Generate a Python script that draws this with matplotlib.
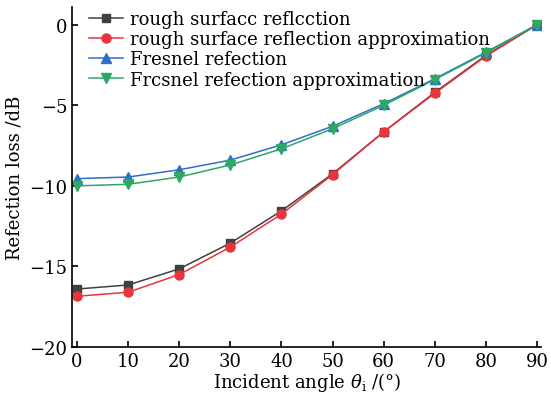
import matplotlib
matplotlib.use('Agg')
import matplotlib.pyplot as plt
import numpy as np

# Data
angles = [0, 10, 20, 30, 40, 50, 60, 70, 80, 90]
rough = [-16.4, -16.15, -15.15, -13.55, -11.55, -9.25, -6.65, -4.2, -1.9, 0.0]
rough_approx = [-16.85, -16.6, -15.5, -13.8, -11.75, -9.3, -6.65, -4.25, -1.95, 0.0]
fresnel = [-9.55, -9.45, -9.0, -8.4, -7.45, -6.3, -4.9, -3.35, -1.7, 0.0]
fresnel_approx = [-10.0, -9.9, -9.45, -8.7, -7.7, -6.45, -5.0, -3.4, -1.75, 0.0]

plt.rcParams['font.family'] = 'DejaVu Serif'
plt.rcParams['mathtext.fontset'] = 'dejavuserif'

fig, ax = plt.subplots(figsize=(5.51, 4.02), dpi=100)
fig.subplots_adjust(left=0.1307, right=0.982, bottom=0.1343, top=0.98)

ax.plot(angles, rough, '-s', color='#404040', ms=5.5, lw=1.1, label='rough surfacc reflcction')
ax.plot(angles, rough_approx, '-o', color='#e8343c', ms=6.5, lw=1.1,
        label='rough surface reflection approximation')
ax.plot(angles, fresnel, '-^', color='#2f6fc8', ms=6.5, lw=1.1, label='Fresnel refection')
ax.plot(angles, fresnel_approx, '-v', color='#2ea862', ms=6.5, lw=1.1,
        label='Frcsnel refection approximation')

ax.set_xlim(-0.98, 90.8)
ax.set_ylim(-20, 1.1)
ax.set_xticks(np.arange(0, 91, 10))
ax.set_yticks([0, -5, -10, -15, -20])
ax.set_yticklabels(['0', '\u22125', '\u221210', '\u221215', '\u221220'])
ax.tick_params(direction='in', labelsize=13, width=1.2, length=4)
for s in ['top', 'right']:
    ax.spines[s].set_visible(False)
for s in ['left', 'bottom']:
    ax.spines[s].set_linewidth(1.2)

ax.set_xlabel(r'Incident angle $\theta_\mathrm{i}$ /(°)', fontsize=13, labelpad=0)
ax.set_ylabel('Refection loss /dB', fontsize=13, labelpad=4)

ax.legend(loc='upper left', bbox_to_anchor=(89 / 551, 1 - 11 / 402),
          bbox_transform=fig.transFigure, frameon=False, fontsize=13,
          handlelength=1.9, handletextpad=0.35, labelspacing=0.12, borderaxespad=0,
          borderpad=0)

plt.savefig('out.png', dpi=100)
